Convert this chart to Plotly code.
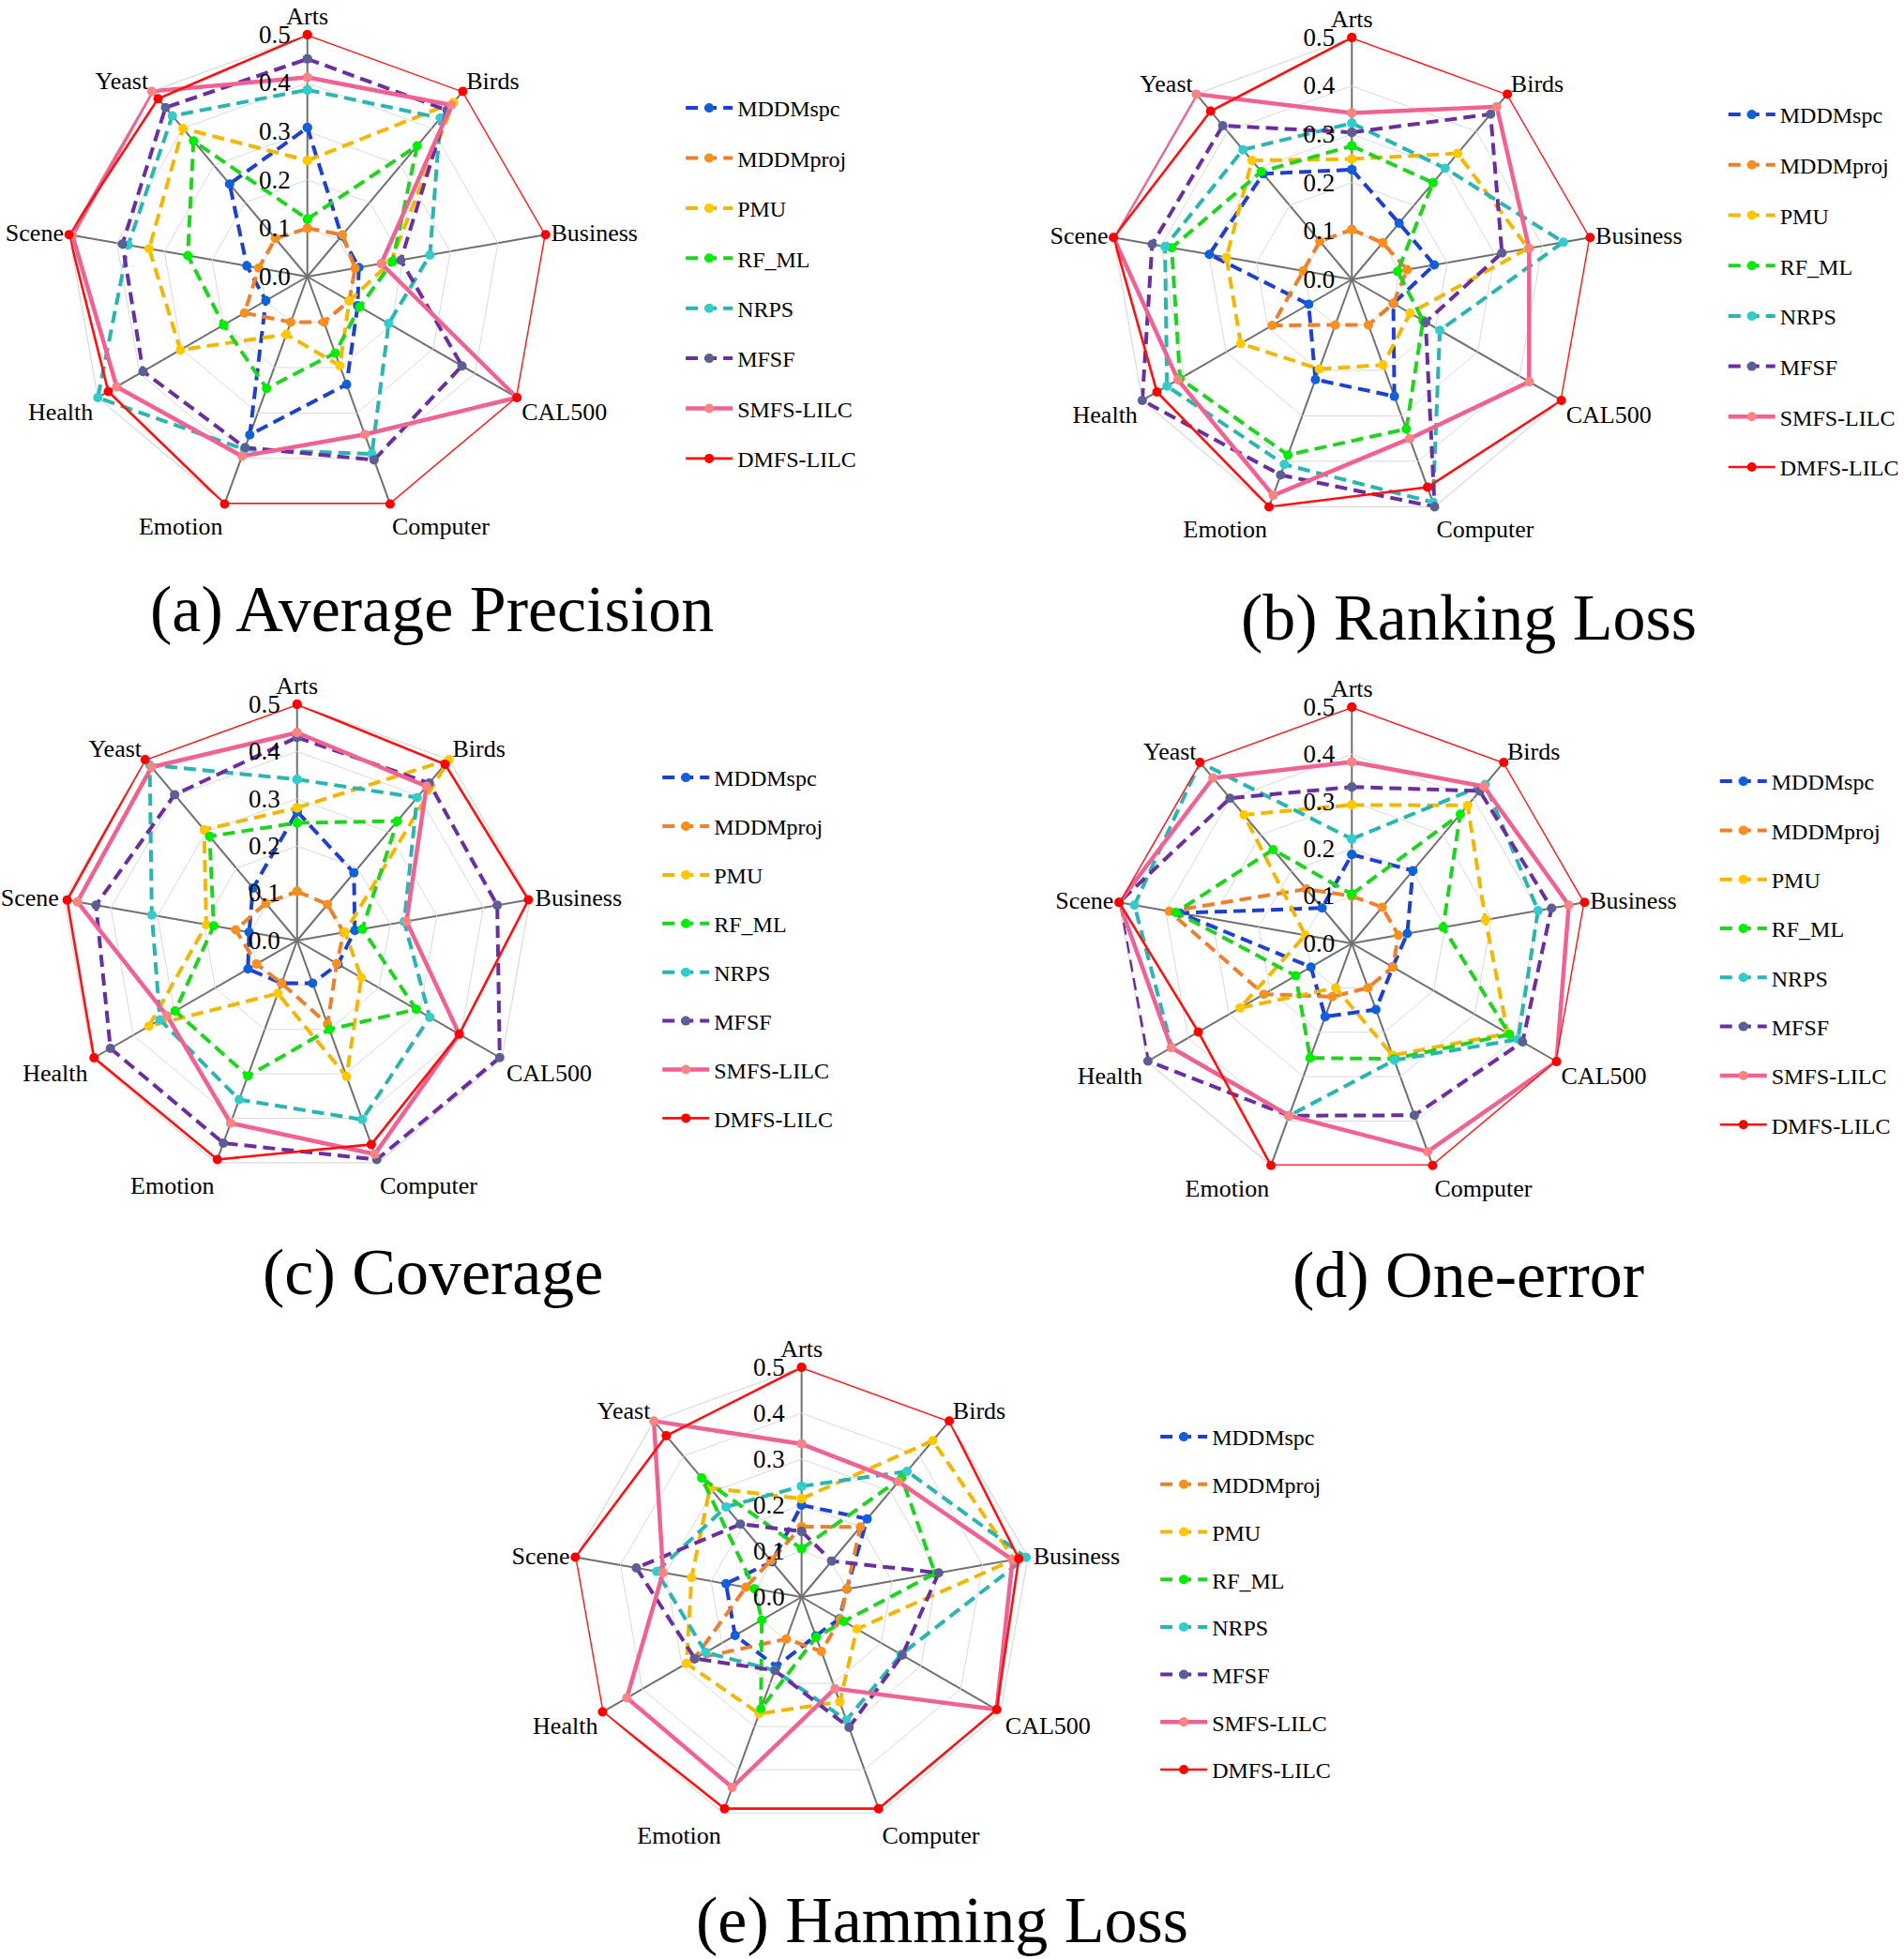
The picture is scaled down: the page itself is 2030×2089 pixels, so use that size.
import plotly.graph_objects as go

# ---------------- data ----------------
categories = ["Arts", "Birds", "Business", "CAL500", "Computer",
              "Emotion", "Health", "Scene", "Yeast"]
methods = ["MDDMspc", "MDDMproj", "PMU", "RF_ML", "NRPS", "MFSF",
           "SMFS-LILC", "DMFS-LILC"]
radial_ticks = [0.0, 0.1, 0.2, 0.3, 0.4, 0.5]
radial_tick_labels = ["0.0", "0.1", "0.2", "0.3", "0.4", "0.5"]
panel_titles = ["(a) Average Precision", "(b) Ranking Loss", "(c) Coverage",
                "(d) One-error", "(e) Hamming Loss"]

# rows follow `methods`, columns follow `categories`
average_precision = [
    [0.308, 0.110, 0.108, 0.120, 0.237, 0.348, 0.099, 0.127, 0.250],
    [0.100, 0.113, 0.100, 0.100, 0.100, 0.100, 0.150, 0.102, 0.103],
    [0.240, 0.470, 0.175, 0.100, 0.196, 0.127, 0.303, 0.332, 0.400],
    [0.119, 0.353, 0.179, 0.125, 0.168, 0.246, 0.200, 0.251, 0.366],
    [0.386, 0.428, 0.257, 0.194, 0.390, 0.380, 0.500, 0.376, 0.434],
    [0.450, 0.449, 0.196, 0.369, 0.403, 0.376, 0.392, 0.388, 0.456],
    [0.412, 0.463, 0.155, 0.500, 0.347, 0.395, 0.455, 0.493, 0.500],
    [0.500, 0.500, 0.500, 0.500, 0.500, 0.500, 0.475, 0.500, 0.480],
]
ranking_loss = [
    [0.227, 0.152, 0.173, 0.099, 0.257, 0.220, 0.103, 0.299, 0.285],
    [0.103, 0.099, 0.116, 0.099, 0.100, 0.100, 0.190, 0.102, 0.103],
    [0.249, 0.340, 0.370, 0.139, 0.188, 0.197, 0.265, 0.263, 0.321],
    [0.276, 0.261, 0.096, 0.170, 0.329, 0.386, 0.410, 0.378, 0.291],
    [0.323, 0.300, 0.444, 0.210, 0.490, 0.407, 0.441, 0.392, 0.350],
    [0.304, 0.446, 0.315, 0.176, 0.500, 0.430, 0.500, 0.419, 0.415],
    [0.344, 0.466, 0.372, 0.423, 0.350, 0.475, 0.415, 0.500, 0.500],
    [0.500, 0.500, 0.500, 0.500, 0.457, 0.500, 0.465, 0.500, 0.454],
]
coverage = [
    [0.273, 0.187, 0.124, 0.100, 0.096, 0.096, 0.120, 0.103, 0.145],
    [0.104, 0.100, 0.100, 0.097, 0.188, 0.096, 0.099, 0.132, 0.103],
    [0.281, 0.500, 0.103, 0.157, 0.306, 0.119, 0.362, 0.195, 0.306],
    [0.249, 0.330, 0.140, 0.291, 0.200, 0.305, 0.298, 0.179, 0.288],
    [0.341, 0.395, 0.230, 0.324, 0.403, 0.358, 0.335, 0.312, 0.485],
    [0.430, 0.435, 0.430, 0.495, 0.493, 0.456, 0.456, 0.432, 0.403],
    [0.440, 0.426, 0.235, 0.396, 0.481, 0.411, 0.318, 0.472, 0.479],
    [0.500, 0.487, 0.497, 0.396, 0.459, 0.493, 0.496, 0.494, 0.500],
]
one_error = [
    [0.188, 0.201, 0.119, 0.100, 0.149, 0.165, 0.100, 0.369, 0.098],
    [0.100, 0.100, 0.100, 0.100, 0.100, 0.120, 0.215, 0.392, 0.150],
    [0.293, 0.381, 0.287, 0.381, 0.252, 0.100, 0.273, 0.100, 0.355],
    [0.104, 0.357, 0.196, 0.385, 0.260, 0.258, 0.137, 0.378, 0.259],
    [0.221, 0.439, 0.400, 0.406, 0.263, 0.388, 0.440, 0.467, 0.500],
    [0.331, 0.421, 0.429, 0.417, 0.387, 0.388, 0.498, 0.500, 0.401],
    [0.384, 0.434, 0.466, 0.500, 0.469, 0.388, 0.441, 0.500, 0.457],
    [0.500, 0.500, 0.500, 0.500, 0.500, 0.500, 0.375, 0.500, 0.500],
]
hamming_loss = [
    [0.200, 0.222, 0.100, 0.095, 0.090, 0.161, 0.167, 0.167, 0.100],
    [0.153, 0.199, 0.100, 0.097, 0.126, 0.097, 0.270, 0.123, 0.104],
    [0.214, 0.444, 0.470, 0.139, 0.243, 0.270, 0.289, 0.243, 0.310],
    [0.105, 0.339, 0.295, 0.106, 0.093, 0.259, 0.100, 0.104, 0.338],
    [0.241, 0.357, 0.496, 0.250, 0.285, 0.170, 0.241, 0.320, 0.256],
    [0.143, 0.102, 0.303, 0.253, 0.302, 0.170, 0.268, 0.365, 0.207],
    [0.333, 0.328, 0.466, 0.490, 0.212, 0.441, 0.439, 0.306, 0.500],
    [0.500, 0.500, 0.480, 0.490, 0.490, 0.490, 0.500, 0.500, 0.458],
]

# ---------------- styles ----------------
line_colors = ["#1f3fcf", "#ee7f2d", "#f2b705", "#21d321", "#2ab5b0",
               "#6a2ea0", "#f06292", "#ff1010"]
marker_colors = ["#1060d8", "#f7901e", "#ffc800", "#00ee00", "#33cccc",
                 "#5c5f94", "#f98484", "#ff0000"]
line_dash = ["13px,7px"] * 6 + ["solid", "solid"]
line_width = [4] * 6 + [4.5, 2.6]

W, H = 2030, 2089
SERIF = "Liberation Serif"

# panel geometry (pixels): centre x, centre y, radius,
# legend x, legend y, legend gap, title x, title y
panels = [
    (average_precision, 329, 295, 259, 729, 93, 19.2, 462, 649),
    (ranking_loss, 1447, 298, 259, 1845, 100, 19.5, 1572, 658),
    (coverage, 318, 1003, 253, 704, 807, 17.7, 463, 1356),
    (one_error, 1447, 1006, 253, 1836, 811, 18.1, 1572, 1359),
    (hamming_loss, 858, 1703, 246, 1237, 1510, 16.5, 1008, 2047),
]

fig = go.Figure()
layout_updates = {}
annotations = []

for p, (vals, cx, cy, r, lx, ly, gap, tx, ty) in enumerate(panels):
    pk = "polar" if p == 0 else f"polar{p + 1}"
    lk = "legend" if p == 0 else f"legend{p + 1}"
    for m, name in enumerate(methods):
        rr = list(vals[m]) + [vals[m][0]]
        th = categories + [categories[0]]
        fig.add_trace(go.Scatterpolar(
            r=rr, theta=th, mode="lines+markers", name=name,
            subplot=pk, legend=lk, legendgroup=f"{p}-{m}",
            line=dict(color=line_colors[m], width=line_width[m], dash=line_dash[m]),
            marker=dict(color=marker_colors[m], size=10),
            cliponaxis=False,
        ))
    layout_updates[pk] = dict(
        domain=dict(x=[(cx - r) / W, (cx + r) / W],
                    y=[1 - (cy + r) / H, 1 - (cy - r) / H]),
        gridshape="linear",
        bgcolor="white",
        angularaxis=dict(
            categoryorder="array", categoryarray=categories,
            direction="clockwise", rotation=90,
            showline=True, linecolor="#d9d9d9", linewidth=1.2,
            showgrid=True, gridcolor="#707070", gridwidth=1.6,
            ticks="", tickfont=dict(family=SERIF, size=26, color="black"),
            layer="below traces",
        ),
        radialaxis=dict(
            range=[0, 0.5], tickvals=radial_ticks, ticktext=radial_tick_labels,
            angle=90, side="counterclockwise", tickangle=90,
            ticks="outside", ticklen=8, tickcolor="rgba(0,0,0,0)",
            showline=False, showgrid=True, gridcolor="#d9d9d9", gridwidth=1.2,
            tickfont=dict(family=SERIF, size=27, color="black"),
            layer="above traces",
        ),
    )
    layout_updates[lk] = dict(
        x=lx / W, y=1 - ly / H, xanchor="left", yanchor="top",
        font=dict(family=SERIF, size=24, color="black"),
        bgcolor="rgba(0,0,0,0)", traceorder="grouped", tracegroupgap=gap,
        itemwidth=50,
    )
    annotations.append(dict(
        text=panel_titles[p], x=tx / W, y=1 - ty / H, xref="paper", yref="paper",
        xanchor="center", yanchor="middle", showarrow=False,
        font=dict(family=SERIF, size=70, color="black"),
    ))

fig.update_layout(
    width=W, height=H, autosize=False,
    margin=dict(l=0, r=0, t=0, b=0),
    paper_bgcolor="white", plot_bgcolor="white",
    showlegend=True,
    annotations=annotations,
    **layout_updates,
)

fig.write_html("out.html",
               config={"displayModeBar": False},
               post_script="document.body.style.margin='0';document.body.style.overflow='hidden';")
